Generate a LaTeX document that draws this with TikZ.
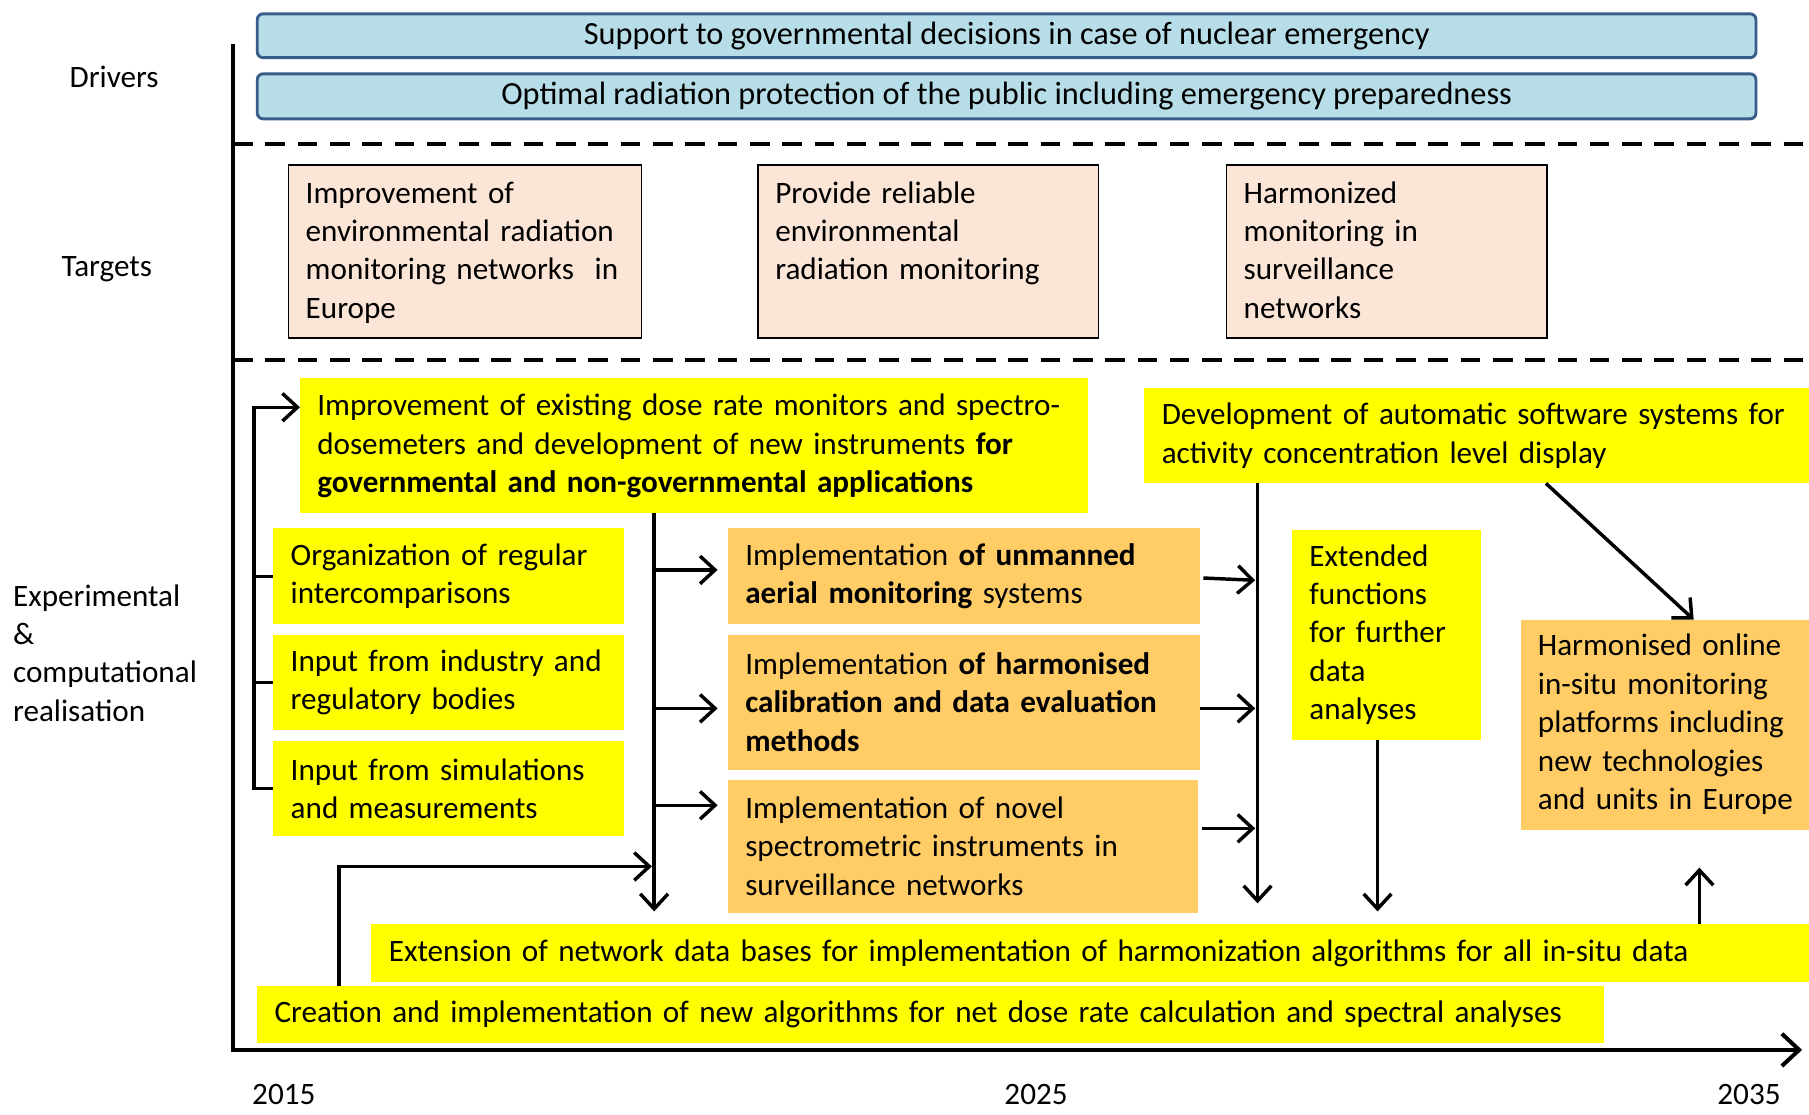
\documentclass[tikz,border=0pt]{standalone}
\usepackage{fontspec}
\setmainfont{Carlito}
\usetikzlibrary{arrows.meta}

\definecolor{drvfill}{RGB}{183,222,232}
\definecolor{drvline}{RGB}{56,93,138}
\definecolor{tgtfill}{RGB}{251,229,214}
\definecolor{actfill}{RGB}{255,255,0}
\definecolor{resfill}{RGB}{255,204,102}

\begin{document}
\begin{tikzpicture}[x=1pt, y=-1pt,
  every node/.style={font=\fontsize{27}{33.3}\selectfont, outer sep=0pt},
  >={Straight Barb[length=13pt,width=24pt]},
  drv/.style={draw=drvline, line width=2.5pt, fill=drvfill, rounded corners=5pt, anchor=north west, minimum width=1299pt, inner sep=0pt, font=\fontsize{28}{33.3}\selectfont},
  tgt/.style={draw=black, line width=1.3pt, fill=tgtfill, anchor=north west, align=left, inner xsep=15pt, inner ysep=14pt, text height=19pt, text depth=103pt},
  act/.style={fill=actfill, anchor=north west, align=left, inner xsep=15pt, inner ysep=0pt},
  res/.style={act, fill=resfill},
  conn/.style={line width=3pt},
  sep/.style={line width=3.5pt, dash pattern=on 17pt off 11pt}]
\useasboundingbox[fill=white] (0,0) rectangle (1568,966);

\node[drv, minimum height=38pt] (drvA) at (223,12) {Support to governmental decisions in case of nuclear emergency};
\node[drv, minimum height=39pt] (drvB) at (223,64) {Optimal radiation protection of the public including emergency preparedness};

\node[anchor=west] (lblD) at (57,67) {Drivers};
\node[anchor=west] (lblT) at (50,233) {Targets};
\node[anchor=west, align=left] (lblE) at (8,566) {Experimental\\\&\\computational\\realisation};

\node[tgt, text width=276pt] (tgtA) at (250,143) {Improvement of\\environmental radiation\\monitoring networks~~in\\Europe};
\node[tgt, text width=265pt] (tgtB) at (657,143) {Provide reliable\\environmental\\radiation monitoring};
\node[tgt, text width=248pt] (tgtC) at (1063,143) {Harmonized\\monitoring in\\surveillance\\networks};

\node[act, text width=653pt, minimum height=117pt] (imp) at (260,328) {Improvement of existing dose rate monitors and spectro-\\dosemeters and development of new instruments \textbf{for}\\\textbf{governmental and non-governmental applications}};
\node[act, text width=274pt, minimum height=83pt] (orgA) at (237,458) {Organization of regular\\intercomparisons};
\node[act, text width=274pt, minimum height=83pt] (inpA) at (237,550) {Input from industry and\\regulatory bodies};
\node[act, text width=274pt, minimum height=83pt] (inpB) at (237,642) {Input from simulations\\and measurements};
\node[act, text width=590pt, minimum height=83pt] (soft) at (992,336) {Development of automatic software systems for\\activity concentration level display};
\node[act, text width=134pt, minimum height=182pt] (ext) at (1120,459) {Extended\\functions\\for further\\data\\analyses};
\node[act, text width=1270pt, minimum height=50pt] (netdb) at (322,801) {Extension of network data bases for implementation of harmonization algorithms for all in-situ data};
\node[act, text width=1137pt, minimum height=49pt] (algo) at (223,855) {Creation and implementation of new algorithms for net dose rate calculation and spectral analyses};

\node[res, text width=379pt, minimum height=83pt] (uav) at (631,458) {Implementation \textbf{of unmanned}\\\textbf{aerial monitoring} systems};
\node[res, text width=379pt, minimum height=117pt] (calib) at (631,550) {Implementation \textbf{of harmonised}\\\textbf{calibration and data evaluation}\\\textbf{methods}};
\node[res, text width=377pt, minimum height=115pt] (spec) at (631,676) {Implementation of novel\\spectrometric instruments in\\surveillance networks};
\node[res, text width=270pt, minimum height=182pt] (online) at (1318,537) {Harmonised online\\in-situ monitoring\\platforms including\\new technologies\\and units in Europe};

\node (yrA) at (246,949) {2015};
\node (yrB) at (898,949) {2025};
\node (yrC) at (1516,949) {2035};

\draw[line width=3.5pt, -{Straight Barb[length=15pt,width=28pt]}] (202,38) |- (1562,910);
\draw[sep] (202,125) -- (1568,125);
\draw[sep] (202,312) -- (1568,312);

\draw[conn,->] (inpB.west) -- ++(-17,0) |- ([yshift=-25pt]imp.north west);
\draw[conn] (orgA.west) -- ++(-17,0);
\draw[conn] (inpA.west) -- ++(-17,0);

\coordinate (trunkA) at (567,445);
\coordinate (trunkB) at (567,790);
\coordinate (joinA) at (565,751);
\draw[conn,->] (trunkA) -- (trunkB);
\draw[conn,<-] ([xshift=-9pt,yshift=-36pt]uav.north west) -- +(-55,0);
\draw[conn,<-] ([xshift=-9pt,yshift=-64pt]calib.north west) -- +(-55,0);
\draw[conn,<-] ([xshift=-9pt,yshift=-22pt]spec.north west) -- +(-55,0);
\draw[conn,->] ([xshift=71pt]algo.north west) |- (joinA);

\draw[conn,->] ([xshift=98pt]soft.south west) -- ++(0,364);
\draw[conn,->] ([xshift=3pt,yshift=-43pt]uav.north east) -- ++(45,2);
\draw[conn,->] ([yshift=-64pt]calib.north east) -- ++(48,0);
\draw[conn,->] ([xshift=4pt,yshift=-42pt]spec.north east) -- ++(46,0);
\draw[conn,->] ([xshift=-8pt]ext.south) -- ++(0,149);
\draw[conn,->] ([xshift=348pt]soft.south west) -- (online.north);
\draw[conn,->] ([xshift=1151pt]netdb.north west) -- ++(0,-49);
\end{tikzpicture}
\end{document}
